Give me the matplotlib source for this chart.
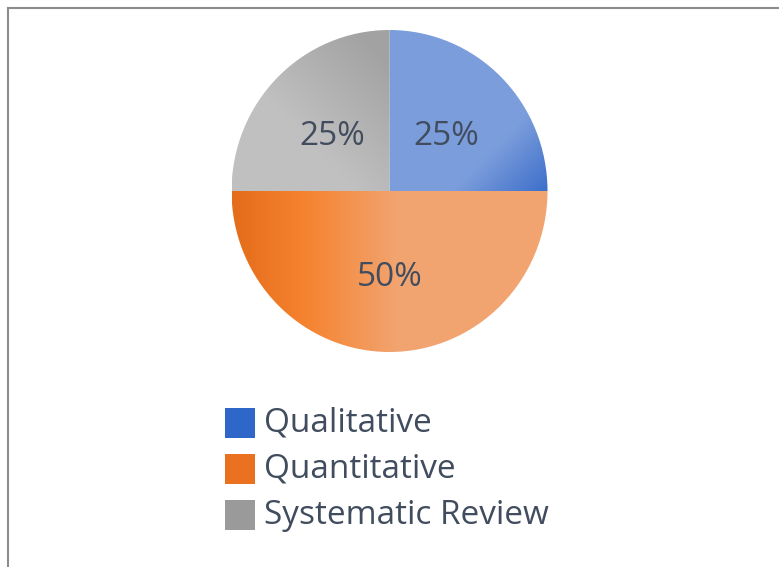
import matplotlib
matplotlib.use("Agg")
import matplotlib.pyplot as plt
import matplotlib.transforms as mtransforms
import numpy as np
from matplotlib.lines import Line2D
from matplotlib.patches import Rectangle

# data
categories = ["Qualitative", "Quantitative", "Systematic Review"]
shares = [25, 50, 25]

plt.rcParams['font.family'] = ['Open Sans', 'DejaVu Sans']
textColor = '#414d5e'

fig = plt.figure(figsize=(7.79, 5.67), dpi=100)
fig.patch.set_facecolor('white')

# frame lines (top and left only visible)
fig.add_artist(Line2D([8/779, 1], [1 - 8/567, 1 - 8/567], color='#8c8c8c', lw=1.5))
fig.add_artist(Line2D([8/779, 8/779], [0, 1 - 8/567], color='#8c8c8c', lw=1.5))

cx, cy, rx, ry = 389.5/779, 1 - 191/567, 158, 161
ax = fig.add_axes([cx - rx/779, cy - ry/567, 2*rx/779, 2*ry/567])

wedges, texts, autotexts = ax.pie(shares, startangle=90, counterclock=False,
                                  autopct='%1.0f%%', pctdistance=0.51, radius=1,
                                  textprops=dict(color=textColor, fontsize=24),
                                  wedgeprops=dict(linewidth=0))
ax.set_aspect('auto')
ax.axis('off')

# gradient fills
n = 300
xs = np.linspace(-1, 1, n)
X, Y = np.meshgrid(xs, xs)

def blend(c1, c2, t):
    c1 = np.array(matplotlib.colors.to_rgb(c1))
    c2 = np.array(matplotlib.colors.to_rgb(c2))
    t = np.clip(t, 0, 1)[..., None]
    return c1 * (1 - t) + c2 * t

# blue: light over most, darker toward lower right
tb = ((X - Y) - 0.4) / 0.75
gradBlue = blend('#7b9ddb', '#2d63c6', tb)
# orange: horizontal, dark left, light right
gradOrange = np.where((X < -0.55)[..., None],
                      blend('#e46c1a', '#f5822e', (X + 1) / 0.45),
                      blend('#f5822e', '#f2a470', (X + 0.55) / 0.6))
# gray: light lower-left, darker toward top near center
tg = ((X + Y) + 0.2) / 1.0
gradGray = blend('#c0c0c0', '#a2a2a2', tg)

for w, g in zip(wedges, [gradBlue, gradOrange, gradGray]):
    w.set_facecolor('none')
    im = ax.imshow(g, extent=(-1, 1, -1, 1), origin='lower', zorder=0.5,
                   interpolation='bilinear', aspect='auto')
    im.set_clip_path(w)

ax.set_xlim(-1, 1)
ax.set_ylim(-1, 1)

# nudge percentage labels down a few pixels
shift = mtransforms.ScaledTranslation(0, -4/100, fig.dpi_scale_trans)
for t in autotexts:
    t.set_zorder(3)
    t.set_transform(t.get_transform() + shift)

# legend
legendSwatches = ['#2f66c9', '#ea711f', '#9a9a9a']
top = 408
for i, (label, sw) in enumerate(zip(categories, legendSwatches)):
    y0 = top + i * 46
    fig.patches.append(Rectangle((225/779, 1 - (y0 + 30)/567), 30/779, 30/567,
                                 transform=fig.transFigure, facecolor=sw,
                                 edgecolor='none'))
    fig.text(264/779, 1 - (y0 + 15)/567, label, fontsize=24, color=textColor,
             va='center', ha='left')

fig.savefig('out.png', dpi=100, facecolor='white')
